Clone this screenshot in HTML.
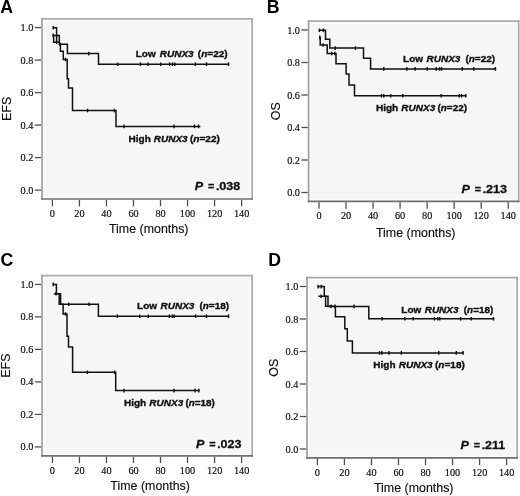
<!DOCTYPE html><html><head><meta charset="utf-8"><style>
html,body{margin:0;padding:0;background:#fff;}
svg{display:block;will-change:transform;}
.tk{font-family:"Liberation Serif",serif;font-size:11.4px;fill:#111;stroke:#111;stroke-width:0.2px;}
.ax{font-family:"Liberation Sans",sans-serif;font-size:12px;fill:#111;stroke:#111;stroke-width:0.15px;}
.ay{font-family:"Liberation Sans",sans-serif;font-size:12.3px;fill:#111;stroke:#111;stroke-width:0.15px;}
.let{font-family:"Liberation Sans",sans-serif;font-size:17.7px;font-weight:bold;fill:#000;}
.lab{font-family:"Liberation Sans",sans-serif;font-size:9.6px;font-weight:bold;fill:#111;stroke:#111;stroke-width:0.35px;white-space:pre;}
.pv{font-family:"Liberation Sans",sans-serif;font-size:11.4px;font-weight:bold;fill:#111;stroke:#111;stroke-width:0.3px;white-space:pre;}
.cv{fill:none;stroke:#111;stroke-width:1.5;stroke-linejoin:miter;stroke-linecap:square;}
.ck{stroke:#111;stroke-width:1.4;}
</style></head><body>
<svg width="520" height="496" viewBox="0 0 520 496">
<rect width="520" height="496" fill="#fff"/>
<rect x="42.00" y="18.80" width="210.10" height="180.20" fill="#f6f6f6"/>
<rect x="43.60" y="20.40" width="206.90" height="177.00" fill="none" stroke="#fdfdfd" stroke-width="1.5"/>
<line x1="41.15" y1="18.80" x2="252.95" y2="18.80" stroke="#adadad" stroke-width="1.7"/>
<line x1="252.10" y1="17.95" x2="252.10" y2="199.85" stroke="#aaaaaa" stroke-width="1.7"/>
<line x1="42.00" y1="17.95" x2="42.00" y2="199.85" stroke="#a0a0a0" stroke-width="1.7"/>
<line x1="41.15" y1="199.00" x2="252.95" y2="199.00" stroke="#707070" stroke-width="1.7"/>
<line x1="34.80" y1="190.10" x2="41.20" y2="190.10" stroke="#505050" stroke-width="1.3"/>
<text transform="translate(33.40,193.60) scale(0.9,1)" class="tk" text-anchor="end">0.0</text>
<line x1="34.80" y1="157.60" x2="41.20" y2="157.60" stroke="#505050" stroke-width="1.3"/>
<text transform="translate(33.40,161.10) scale(0.9,1)" class="tk" text-anchor="end">0.2</text>
<line x1="34.80" y1="125.10" x2="41.20" y2="125.10" stroke="#505050" stroke-width="1.3"/>
<text transform="translate(33.40,128.60) scale(0.9,1)" class="tk" text-anchor="end">0.4</text>
<line x1="34.80" y1="92.60" x2="41.20" y2="92.60" stroke="#505050" stroke-width="1.3"/>
<text transform="translate(33.40,96.10) scale(0.9,1)" class="tk" text-anchor="end">0.6</text>
<line x1="34.80" y1="60.10" x2="41.20" y2="60.10" stroke="#505050" stroke-width="1.3"/>
<text transform="translate(33.40,63.60) scale(0.9,1)" class="tk" text-anchor="end">0.8</text>
<line x1="34.80" y1="27.60" x2="41.20" y2="27.60" stroke="#505050" stroke-width="1.3"/>
<text transform="translate(33.40,31.10) scale(0.9,1)" class="tk" text-anchor="end">1.0</text>
<line x1="52.40" y1="199.80" x2="52.40" y2="206.30" stroke="#505050" stroke-width="1.3"/>
<text transform="translate(52.40,216.80) scale(0.9,1)" class="tk" text-anchor="middle">0</text>
<line x1="79.43" y1="199.80" x2="79.43" y2="206.30" stroke="#505050" stroke-width="1.3"/>
<text transform="translate(79.43,216.80) scale(0.9,1)" class="tk" text-anchor="middle">20</text>
<line x1="106.46" y1="199.80" x2="106.46" y2="206.30" stroke="#505050" stroke-width="1.3"/>
<text transform="translate(106.46,216.80) scale(0.9,1)" class="tk" text-anchor="middle">40</text>
<line x1="133.49" y1="199.80" x2="133.49" y2="206.30" stroke="#505050" stroke-width="1.3"/>
<text transform="translate(133.49,216.80) scale(0.9,1)" class="tk" text-anchor="middle">60</text>
<line x1="160.52" y1="199.80" x2="160.52" y2="206.30" stroke="#505050" stroke-width="1.3"/>
<text transform="translate(160.52,216.80) scale(0.9,1)" class="tk" text-anchor="middle">80</text>
<line x1="187.55" y1="199.80" x2="187.55" y2="206.30" stroke="#505050" stroke-width="1.3"/>
<text transform="translate(187.55,216.80) scale(0.9,1)" class="tk" text-anchor="middle">100</text>
<line x1="214.58" y1="199.80" x2="214.58" y2="206.30" stroke="#505050" stroke-width="1.3"/>
<text transform="translate(214.58,216.80) scale(0.9,1)" class="tk" text-anchor="middle">120</text>
<line x1="241.61" y1="199.80" x2="241.61" y2="206.30" stroke="#505050" stroke-width="1.3"/>
<text transform="translate(241.61,216.80) scale(0.9,1)" class="tk" text-anchor="middle">140</text>
<text transform="translate(108.95,232.70) scale(1.035,1)" class="ax">Time (months)</text>
<text transform="translate(11.20,108.85) rotate(-90) scale(1.016,1)" class="ay" text-anchor="middle">EFS</text>
<text x="0.2" y="12.5" class="let">A</text>
<rect x="308.60" y="21.20" width="210.10" height="180.20" fill="#f6f6f6"/>
<rect x="310.20" y="22.80" width="206.90" height="177.00" fill="none" stroke="#fdfdfd" stroke-width="1.5"/>
<line x1="307.75" y1="21.20" x2="519.55" y2="21.20" stroke="#adadad" stroke-width="1.7"/>
<line x1="518.70" y1="20.35" x2="518.70" y2="202.25" stroke="#aaaaaa" stroke-width="1.7"/>
<line x1="308.60" y1="20.35" x2="308.60" y2="202.25" stroke="#a0a0a0" stroke-width="1.7"/>
<line x1="307.75" y1="201.40" x2="519.55" y2="201.40" stroke="#707070" stroke-width="1.7"/>
<line x1="301.40" y1="192.50" x2="307.80" y2="192.50" stroke="#505050" stroke-width="1.3"/>
<text transform="translate(300.00,196.00) scale(0.9,1)" class="tk" text-anchor="end">0.0</text>
<line x1="301.40" y1="160.00" x2="307.80" y2="160.00" stroke="#505050" stroke-width="1.3"/>
<text transform="translate(300.00,163.50) scale(0.9,1)" class="tk" text-anchor="end">0.2</text>
<line x1="301.40" y1="127.50" x2="307.80" y2="127.50" stroke="#505050" stroke-width="1.3"/>
<text transform="translate(300.00,131.00) scale(0.9,1)" class="tk" text-anchor="end">0.4</text>
<line x1="301.40" y1="95.00" x2="307.80" y2="95.00" stroke="#505050" stroke-width="1.3"/>
<text transform="translate(300.00,98.50) scale(0.9,1)" class="tk" text-anchor="end">0.6</text>
<line x1="301.40" y1="62.50" x2="307.80" y2="62.50" stroke="#505050" stroke-width="1.3"/>
<text transform="translate(300.00,66.00) scale(0.9,1)" class="tk" text-anchor="end">0.8</text>
<line x1="301.40" y1="30.00" x2="307.80" y2="30.00" stroke="#505050" stroke-width="1.3"/>
<text transform="translate(300.00,33.50) scale(0.9,1)" class="tk" text-anchor="end">1.0</text>
<line x1="319.00" y1="202.20" x2="319.00" y2="208.70" stroke="#505050" stroke-width="1.3"/>
<text transform="translate(319.00,219.20) scale(0.9,1)" class="tk" text-anchor="middle">0</text>
<line x1="346.03" y1="202.20" x2="346.03" y2="208.70" stroke="#505050" stroke-width="1.3"/>
<text transform="translate(346.03,219.20) scale(0.9,1)" class="tk" text-anchor="middle">20</text>
<line x1="373.06" y1="202.20" x2="373.06" y2="208.70" stroke="#505050" stroke-width="1.3"/>
<text transform="translate(373.06,219.20) scale(0.9,1)" class="tk" text-anchor="middle">40</text>
<line x1="400.09" y1="202.20" x2="400.09" y2="208.70" stroke="#505050" stroke-width="1.3"/>
<text transform="translate(400.09,219.20) scale(0.9,1)" class="tk" text-anchor="middle">60</text>
<line x1="427.12" y1="202.20" x2="427.12" y2="208.70" stroke="#505050" stroke-width="1.3"/>
<text transform="translate(427.12,219.20) scale(0.9,1)" class="tk" text-anchor="middle">80</text>
<line x1="454.15" y1="202.20" x2="454.15" y2="208.70" stroke="#505050" stroke-width="1.3"/>
<text transform="translate(454.15,219.20) scale(0.9,1)" class="tk" text-anchor="middle">100</text>
<line x1="481.18" y1="202.20" x2="481.18" y2="208.70" stroke="#505050" stroke-width="1.3"/>
<text transform="translate(481.18,219.20) scale(0.9,1)" class="tk" text-anchor="middle">120</text>
<line x1="508.21" y1="202.20" x2="508.21" y2="208.70" stroke="#505050" stroke-width="1.3"/>
<text transform="translate(508.21,219.20) scale(0.9,1)" class="tk" text-anchor="middle">140</text>
<text transform="translate(375.95,236.50) scale(1.035,1)" class="ax">Time (months)</text>
<text transform="translate(279.60,111.25) rotate(-90) scale(1.016,1)" class="ay" text-anchor="middle">OS</text>
<text x="266.7" y="12.7" class="let">B</text>
<rect x="42.00" y="275.60" width="210.10" height="180.20" fill="#f6f6f6"/>
<rect x="43.60" y="277.20" width="206.90" height="177.00" fill="none" stroke="#fdfdfd" stroke-width="1.5"/>
<line x1="41.15" y1="275.60" x2="252.95" y2="275.60" stroke="#adadad" stroke-width="1.7"/>
<line x1="252.10" y1="274.75" x2="252.10" y2="456.65" stroke="#aaaaaa" stroke-width="1.7"/>
<line x1="42.00" y1="274.75" x2="42.00" y2="456.65" stroke="#a0a0a0" stroke-width="1.7"/>
<line x1="41.15" y1="455.80" x2="252.95" y2="455.80" stroke="#707070" stroke-width="1.7"/>
<line x1="34.80" y1="446.90" x2="41.20" y2="446.90" stroke="#505050" stroke-width="1.3"/>
<text transform="translate(33.40,450.40) scale(0.9,1)" class="tk" text-anchor="end">0.0</text>
<line x1="34.80" y1="414.40" x2="41.20" y2="414.40" stroke="#505050" stroke-width="1.3"/>
<text transform="translate(33.40,417.90) scale(0.9,1)" class="tk" text-anchor="end">0.2</text>
<line x1="34.80" y1="381.90" x2="41.20" y2="381.90" stroke="#505050" stroke-width="1.3"/>
<text transform="translate(33.40,385.40) scale(0.9,1)" class="tk" text-anchor="end">0.4</text>
<line x1="34.80" y1="349.40" x2="41.20" y2="349.40" stroke="#505050" stroke-width="1.3"/>
<text transform="translate(33.40,352.90) scale(0.9,1)" class="tk" text-anchor="end">0.6</text>
<line x1="34.80" y1="316.90" x2="41.20" y2="316.90" stroke="#505050" stroke-width="1.3"/>
<text transform="translate(33.40,320.40) scale(0.9,1)" class="tk" text-anchor="end">0.8</text>
<line x1="34.80" y1="284.40" x2="41.20" y2="284.40" stroke="#505050" stroke-width="1.3"/>
<text transform="translate(33.40,287.90) scale(0.9,1)" class="tk" text-anchor="end">1.0</text>
<line x1="52.40" y1="456.60" x2="52.40" y2="463.10" stroke="#505050" stroke-width="1.3"/>
<text transform="translate(52.40,473.60) scale(0.9,1)" class="tk" text-anchor="middle">0</text>
<line x1="79.43" y1="456.60" x2="79.43" y2="463.10" stroke="#505050" stroke-width="1.3"/>
<text transform="translate(79.43,473.60) scale(0.9,1)" class="tk" text-anchor="middle">20</text>
<line x1="106.46" y1="456.60" x2="106.46" y2="463.10" stroke="#505050" stroke-width="1.3"/>
<text transform="translate(106.46,473.60) scale(0.9,1)" class="tk" text-anchor="middle">40</text>
<line x1="133.49" y1="456.60" x2="133.49" y2="463.10" stroke="#505050" stroke-width="1.3"/>
<text transform="translate(133.49,473.60) scale(0.9,1)" class="tk" text-anchor="middle">60</text>
<line x1="160.52" y1="456.60" x2="160.52" y2="463.10" stroke="#505050" stroke-width="1.3"/>
<text transform="translate(160.52,473.60) scale(0.9,1)" class="tk" text-anchor="middle">80</text>
<line x1="187.55" y1="456.60" x2="187.55" y2="463.10" stroke="#505050" stroke-width="1.3"/>
<text transform="translate(187.55,473.60) scale(0.9,1)" class="tk" text-anchor="middle">100</text>
<line x1="214.58" y1="456.60" x2="214.58" y2="463.10" stroke="#505050" stroke-width="1.3"/>
<text transform="translate(214.58,473.60) scale(0.9,1)" class="tk" text-anchor="middle">120</text>
<line x1="241.61" y1="456.60" x2="241.61" y2="463.10" stroke="#505050" stroke-width="1.3"/>
<text transform="translate(241.61,473.60) scale(0.9,1)" class="tk" text-anchor="middle">140</text>
<text transform="translate(110.35,489.50) scale(1.035,1)" class="ax">Time (months)</text>
<text transform="translate(9.60,365.65) rotate(-90) scale(1.016,1)" class="ay" text-anchor="middle">EFS</text>
<text x="0.4" y="266.35" class="let">C</text>
<rect x="307.00" y="277.70" width="210.10" height="180.20" fill="#f6f6f6"/>
<rect x="308.60" y="279.30" width="206.90" height="177.00" fill="none" stroke="#fdfdfd" stroke-width="1.5"/>
<line x1="306.15" y1="277.70" x2="517.95" y2="277.70" stroke="#adadad" stroke-width="1.7"/>
<line x1="517.10" y1="276.85" x2="517.10" y2="458.75" stroke="#aaaaaa" stroke-width="1.7"/>
<line x1="307.00" y1="276.85" x2="307.00" y2="458.75" stroke="#a0a0a0" stroke-width="1.7"/>
<line x1="306.15" y1="457.90" x2="517.95" y2="457.90" stroke="#707070" stroke-width="1.7"/>
<line x1="299.80" y1="449.00" x2="306.20" y2="449.00" stroke="#505050" stroke-width="1.3"/>
<text transform="translate(298.40,452.50) scale(0.9,1)" class="tk" text-anchor="end">0.0</text>
<line x1="299.80" y1="416.50" x2="306.20" y2="416.50" stroke="#505050" stroke-width="1.3"/>
<text transform="translate(298.40,420.00) scale(0.9,1)" class="tk" text-anchor="end">0.2</text>
<line x1="299.80" y1="384.00" x2="306.20" y2="384.00" stroke="#505050" stroke-width="1.3"/>
<text transform="translate(298.40,387.50) scale(0.9,1)" class="tk" text-anchor="end">0.4</text>
<line x1="299.80" y1="351.50" x2="306.20" y2="351.50" stroke="#505050" stroke-width="1.3"/>
<text transform="translate(298.40,355.00) scale(0.9,1)" class="tk" text-anchor="end">0.6</text>
<line x1="299.80" y1="319.00" x2="306.20" y2="319.00" stroke="#505050" stroke-width="1.3"/>
<text transform="translate(298.40,322.50) scale(0.9,1)" class="tk" text-anchor="end">0.8</text>
<line x1="299.80" y1="286.50" x2="306.20" y2="286.50" stroke="#505050" stroke-width="1.3"/>
<text transform="translate(298.40,290.00) scale(0.9,1)" class="tk" text-anchor="end">1.0</text>
<line x1="317.40" y1="458.70" x2="317.40" y2="465.20" stroke="#505050" stroke-width="1.3"/>
<text transform="translate(317.40,475.70) scale(0.9,1)" class="tk" text-anchor="middle">0</text>
<line x1="344.43" y1="458.70" x2="344.43" y2="465.20" stroke="#505050" stroke-width="1.3"/>
<text transform="translate(344.43,475.70) scale(0.9,1)" class="tk" text-anchor="middle">20</text>
<line x1="371.46" y1="458.70" x2="371.46" y2="465.20" stroke="#505050" stroke-width="1.3"/>
<text transform="translate(371.46,475.70) scale(0.9,1)" class="tk" text-anchor="middle">40</text>
<line x1="398.49" y1="458.70" x2="398.49" y2="465.20" stroke="#505050" stroke-width="1.3"/>
<text transform="translate(398.49,475.70) scale(0.9,1)" class="tk" text-anchor="middle">60</text>
<line x1="425.52" y1="458.70" x2="425.52" y2="465.20" stroke="#505050" stroke-width="1.3"/>
<text transform="translate(425.52,475.70) scale(0.9,1)" class="tk" text-anchor="middle">80</text>
<line x1="452.55" y1="458.70" x2="452.55" y2="465.20" stroke="#505050" stroke-width="1.3"/>
<text transform="translate(452.55,475.70) scale(0.9,1)" class="tk" text-anchor="middle">100</text>
<line x1="479.58" y1="458.70" x2="479.58" y2="465.20" stroke="#505050" stroke-width="1.3"/>
<text transform="translate(479.58,475.70) scale(0.9,1)" class="tk" text-anchor="middle">120</text>
<line x1="506.61" y1="458.70" x2="506.61" y2="465.20" stroke="#505050" stroke-width="1.3"/>
<text transform="translate(506.61,475.70) scale(0.9,1)" class="tk" text-anchor="middle">140</text>
<text transform="translate(373.95,492.40) scale(1.035,1)" class="ax">Time (months)</text>
<text transform="translate(277.80,367.75) rotate(-90) scale(1.016,1)" class="ay" text-anchor="middle">OS</text>
<text x="268.3" y="266.3" class="let">D</text>
<polyline points="53.30,27.80 56.60,27.80 56.60,42.30" class="cv"/>
<polyline points="53.30,35.40 59.30,35.40 59.30,44.30 67.40,44.30 67.40,53.60 98.50,53.60 98.50,64.20 228.50,64.20" class="cv"/>
<polyline points="53.60,35.40 53.60,42.30 59.30,42.30" class="cv"/>
<polyline points="60.40,44.20 60.40,51.30 63.30,51.30 63.30,59.50 67.20,59.50 67.20,78.70 68.50,78.70 68.50,87.90 72.50,87.90 72.50,110.50 116.00,110.50 116.00,126.40 199.60,126.40" class="cv"/>
<line x1="88.80" y1="51.80" x2="88.80" y2="55.40" class="ck"/>
<line x1="117.80" y1="62.40" x2="117.80" y2="66.00" class="ck"/>
<line x1="140.40" y1="62.40" x2="140.40" y2="66.00" class="ck"/>
<line x1="148.10" y1="62.40" x2="148.10" y2="66.00" class="ck"/>
<line x1="160.80" y1="62.40" x2="160.80" y2="66.00" class="ck"/>
<line x1="169.60" y1="62.40" x2="169.60" y2="66.00" class="ck"/>
<line x1="172.50" y1="62.40" x2="172.50" y2="66.00" class="ck"/>
<line x1="174.80" y1="62.40" x2="174.80" y2="66.00" class="ck"/>
<line x1="195.40" y1="62.40" x2="195.40" y2="66.00" class="ck"/>
<line x1="206.50" y1="62.40" x2="206.50" y2="66.00" class="ck"/>
<line x1="228.50" y1="62.40" x2="228.50" y2="66.00" class="ck"/>
<line x1="65.50" y1="57.70" x2="65.50" y2="61.30" class="ck"/>
<line x1="87.60" y1="108.70" x2="87.60" y2="112.30" class="ck"/>
<line x1="114.40" y1="108.70" x2="114.40" y2="112.30" class="ck"/>
<line x1="124.00" y1="124.60" x2="124.00" y2="128.20" class="ck"/>
<line x1="174.00" y1="124.60" x2="174.00" y2="128.20" class="ck"/>
<line x1="194.50" y1="124.60" x2="194.50" y2="128.20" class="ck"/>
<line x1="198.50" y1="124.60" x2="198.50" y2="128.20" class="ck"/>
<line x1="53.30" y1="26.00" x2="53.30" y2="29.60" class="ck"/>
<line x1="53.30" y1="33.60" x2="53.30" y2="37.20" class="ck"/>
<line x1="56.60" y1="40.50" x2="56.60" y2="44.10" class="ck"/>
<line x1="59.90" y1="42.40" x2="59.90" y2="46.00" class="ck"/>
<polyline points="319.40,30.30 325.50,30.30 325.50,39.30 329.80,39.30 329.80,48.10 363.50,48.10 363.50,58.20 370.60,58.20 370.60,68.90 495.40,68.90" class="cv"/>
<polyline points="320.20,37.40 320.20,45.00 327.20,45.00 327.20,53.50 336.00,53.50 336.00,63.80 346.10,63.80 346.10,74.00 349.00,74.00 349.00,85.00 354.50,85.00 354.50,95.80 465.70,95.80" class="cv"/>
<line x1="319.40" y1="28.50" x2="319.40" y2="32.10" class="ck"/>
<line x1="323.40" y1="28.50" x2="323.40" y2="32.10" class="ck"/>
<line x1="335.20" y1="46.30" x2="335.20" y2="49.90" class="ck"/>
<line x1="355.40" y1="46.30" x2="355.40" y2="49.90" class="ck"/>
<line x1="383.80" y1="67.10" x2="383.80" y2="70.70" class="ck"/>
<line x1="406.90" y1="67.10" x2="406.90" y2="70.70" class="ck"/>
<line x1="415.10" y1="67.10" x2="415.10" y2="70.70" class="ck"/>
<line x1="427.20" y1="67.10" x2="427.20" y2="70.70" class="ck"/>
<line x1="436.20" y1="67.10" x2="436.20" y2="70.70" class="ck"/>
<line x1="439.50" y1="67.10" x2="439.50" y2="70.70" class="ck"/>
<line x1="441.50" y1="67.10" x2="441.50" y2="70.70" class="ck"/>
<line x1="462.30" y1="67.10" x2="462.30" y2="70.70" class="ck"/>
<line x1="473.80" y1="67.10" x2="473.80" y2="70.70" class="ck"/>
<line x1="495.40" y1="67.10" x2="495.40" y2="70.70" class="ck"/>
<line x1="319.80" y1="35.60" x2="319.80" y2="39.20" class="ck"/>
<line x1="323.10" y1="43.20" x2="323.10" y2="46.80" class="ck"/>
<line x1="331.80" y1="51.70" x2="331.80" y2="55.30" class="ck"/>
<line x1="334.80" y1="51.70" x2="334.80" y2="55.30" class="ck"/>
<line x1="381.50" y1="94.00" x2="381.50" y2="97.60" class="ck"/>
<line x1="383.80" y1="94.00" x2="383.80" y2="97.60" class="ck"/>
<line x1="390.80" y1="94.00" x2="390.80" y2="97.60" class="ck"/>
<line x1="402.80" y1="94.00" x2="402.80" y2="97.60" class="ck"/>
<line x1="441.10" y1="94.00" x2="441.10" y2="97.60" class="ck"/>
<line x1="459.20" y1="94.00" x2="459.20" y2="97.60" class="ck"/>
<line x1="461.50" y1="94.00" x2="461.50" y2="97.60" class="ck"/>
<line x1="465.70" y1="94.00" x2="465.70" y2="97.60" class="ck"/>
<polyline points="53.30,284.40 56.40,284.40 56.40,293.80 60.60,293.80 60.60,304.20 98.40,304.20 98.40,316.20 228.50,316.20" class="cv"/>
<polyline points="54.50,293.80 59.20,293.80 59.20,304.20 63.10,304.20 63.10,313.90 67.00,313.90 67.00,336.30 68.50,336.30 68.50,346.90 72.60,346.90 72.60,372.30 115.70,372.30 115.70,390.60 198.80,390.60" class="cv"/>
<line x1="53.30" y1="282.60" x2="53.30" y2="286.20" class="ck"/>
<line x1="56.00" y1="292.00" x2="56.00" y2="295.60" class="ck"/>
<line x1="68.70" y1="302.40" x2="68.70" y2="306.00" class="ck"/>
<line x1="89.10" y1="302.40" x2="89.10" y2="306.00" class="ck"/>
<line x1="117.40" y1="314.40" x2="117.40" y2="318.00" class="ck"/>
<line x1="139.70" y1="314.40" x2="139.70" y2="318.00" class="ck"/>
<line x1="148.30" y1="314.40" x2="148.30" y2="318.00" class="ck"/>
<line x1="169.40" y1="314.40" x2="169.40" y2="318.00" class="ck"/>
<line x1="172.40" y1="314.40" x2="172.40" y2="318.00" class="ck"/>
<line x1="174.20" y1="314.40" x2="174.20" y2="318.00" class="ck"/>
<line x1="195.60" y1="314.40" x2="195.60" y2="318.00" class="ck"/>
<line x1="206.50" y1="314.40" x2="206.50" y2="318.00" class="ck"/>
<line x1="228.50" y1="314.40" x2="228.50" y2="318.00" class="ck"/>
<line x1="65.50" y1="312.10" x2="65.50" y2="315.70" class="ck"/>
<line x1="87.40" y1="370.50" x2="87.40" y2="374.10" class="ck"/>
<line x1="114.60" y1="370.50" x2="114.60" y2="374.10" class="ck"/>
<line x1="124.00" y1="388.80" x2="124.00" y2="392.40" class="ck"/>
<line x1="174.00" y1="388.80" x2="174.00" y2="392.40" class="ck"/>
<line x1="195.00" y1="388.80" x2="195.00" y2="392.40" class="ck"/>
<line x1="198.80" y1="388.80" x2="198.80" y2="392.40" class="ck"/>
<polyline points="318.20,286.60 324.30,286.60 324.30,296.20 328.00,296.20 328.00,306.40 368.80,306.40 368.80,318.80 493.50,318.80" class="cv"/>
<polyline points="319.10,296.20 325.60,296.20 325.60,306.20 335.40,306.20 335.40,316.80 344.80,316.80 344.80,328.80 347.30,328.80 347.30,340.90 352.40,340.90 352.40,352.90 463.10,352.90" class="cv"/>
<line x1="318.20" y1="284.80" x2="318.20" y2="288.40" class="ck"/>
<line x1="321.30" y1="284.80" x2="321.30" y2="288.40" class="ck"/>
<line x1="321.00" y1="294.40" x2="321.00" y2="298.00" class="ck"/>
<line x1="331.00" y1="304.60" x2="331.00" y2="308.20" class="ck"/>
<line x1="334.90" y1="304.60" x2="334.90" y2="308.20" class="ck"/>
<line x1="354.10" y1="304.60" x2="354.10" y2="308.20" class="ck"/>
<line x1="382.20" y1="317.00" x2="382.20" y2="320.60" class="ck"/>
<line x1="404.70" y1="317.00" x2="404.70" y2="320.60" class="ck"/>
<line x1="413.20" y1="317.00" x2="413.20" y2="320.60" class="ck"/>
<line x1="434.40" y1="317.00" x2="434.40" y2="320.60" class="ck"/>
<line x1="437.80" y1="317.00" x2="437.80" y2="320.60" class="ck"/>
<line x1="439.80" y1="317.00" x2="439.80" y2="320.60" class="ck"/>
<line x1="460.60" y1="317.00" x2="460.60" y2="320.60" class="ck"/>
<line x1="471.30" y1="317.00" x2="471.30" y2="320.60" class="ck"/>
<line x1="493.50" y1="317.00" x2="493.50" y2="320.60" class="ck"/>
<line x1="379.50" y1="351.10" x2="379.50" y2="354.70" class="ck"/>
<line x1="382.00" y1="351.10" x2="382.00" y2="354.70" class="ck"/>
<line x1="389.00" y1="351.10" x2="389.00" y2="354.70" class="ck"/>
<line x1="401.30" y1="351.10" x2="401.30" y2="354.70" class="ck"/>
<line x1="438.80" y1="351.10" x2="438.80" y2="354.70" class="ck"/>
<line x1="456.30" y1="351.10" x2="456.30" y2="354.70" class="ck"/>
<line x1="463.10" y1="351.10" x2="463.10" y2="354.70" class="ck"/>
<text transform="translate(135.70,56.60) scale(1.045,1)" class="lab">Low</text>
<text transform="translate(159.75,56.60) scale(1.045,1)" class="lab" font-style="italic">RUNX3</text>
<text transform="translate(197.80,56.60) scale(1.047,1)" class="lab">(<tspan font-style="italic">n</tspan>=22)</text>
<text transform="translate(128.60,141.60) scale(1.045,1)" class="lab">High</text>
<text transform="translate(153.75,141.60) scale(1.045,1)" class="lab" font-style="italic">RUNX3</text>
<text transform="translate(189.90,141.60) scale(1.051,1)" class="lab">(<tspan font-style="italic">n</tspan>=22)</text>
<text transform="translate(194.82,189.80) scale(1.1,1)" class="pv" font-style="italic">P</text>
<text transform="translate(208.03,189.80) scale(0.95,1)" class="pv">=</text>
<text transform="translate(215.97,189.80) scale(1.1,1)" class="pv">.</text>
<text transform="translate(219.25,189.80) scale(1.1,1)" class="pv">038</text>
<text transform="translate(403.10,62.00) scale(1.045,1)" class="lab">Low</text>
<text transform="translate(426.45,62.00) scale(1.045,1)" class="lab" font-style="italic">RUNX3</text>
<text transform="translate(465.40,62.00) scale(1.043,1)" class="lab">(<tspan font-style="italic">n</tspan>=22)</text>
<text transform="translate(375.90,110.60) scale(1.045,1)" class="lab">High</text>
<text transform="translate(401.35,110.60) scale(1.045,1)" class="lab" font-style="italic">RUNX3</text>
<text transform="translate(437.50,110.60) scale(1.033,1)" class="lab">(<tspan font-style="italic">n</tspan>=22)</text>
<text transform="translate(461.53,192.50) scale(1.1,1)" class="pv" font-style="italic">P</text>
<text transform="translate(474.72,192.50) scale(0.95,1)" class="pv">=</text>
<text transform="translate(482.68,192.50) scale(1.1,1)" class="pv">.</text>
<text transform="translate(485.95,192.50) scale(1.1,1)" class="pv">213</text>
<text transform="translate(137.10,309.40) scale(1.045,1)" class="lab">Low</text>
<text transform="translate(160.45,309.40) scale(1.045,1)" class="lab" font-style="italic">RUNX3</text>
<text transform="translate(199.40,309.40) scale(1.043,1)" class="lab">(<tspan font-style="italic">n</tspan>=18)</text>
<text transform="translate(123.90,405.80) scale(1.045,1)" class="lab">High</text>
<text transform="translate(149.35,405.80) scale(1.045,1)" class="lab" font-style="italic">RUNX3</text>
<text transform="translate(185.41,405.80) scale(1.029,1)" class="lab">(<tspan font-style="italic">n</tspan>=18)</text>
<text transform="translate(196.12,448.40) scale(1.1,1)" class="pv" font-style="italic">P</text>
<text transform="translate(209.33,448.40) scale(0.95,1)" class="pv">=</text>
<text transform="translate(217.28,448.40) scale(1.1,1)" class="pv">.</text>
<text transform="translate(220.55,448.40) scale(1.1,1)" class="pv">023</text>
<text transform="translate(401.30,312.60) scale(1.045,1)" class="lab">Low</text>
<text transform="translate(424.65,312.60) scale(1.045,1)" class="lab" font-style="italic">RUNX3</text>
<text transform="translate(463.81,312.60) scale(1.029,1)" class="lab">(<tspan font-style="italic">n</tspan>=18)</text>
<text transform="translate(373.30,368.00) scale(1.045,1)" class="lab">High</text>
<text transform="translate(398.75,368.00) scale(1.045,1)" class="lab" font-style="italic">RUNX3</text>
<text transform="translate(434.90,368.00) scale(1.051,1)" class="lab">(<tspan font-style="italic">n</tspan>=18)</text>
<text transform="translate(460.53,449.10) scale(1.1,1)" class="pv" font-style="italic">P</text>
<text transform="translate(473.72,449.10) scale(0.95,1)" class="pv">=</text>
<text transform="translate(481.68,449.10) scale(1.1,1)" class="pv">.</text>
<text transform="translate(484.95,449.10) scale(1.1,1)" class="pv">211</text>
</svg></body></html>
